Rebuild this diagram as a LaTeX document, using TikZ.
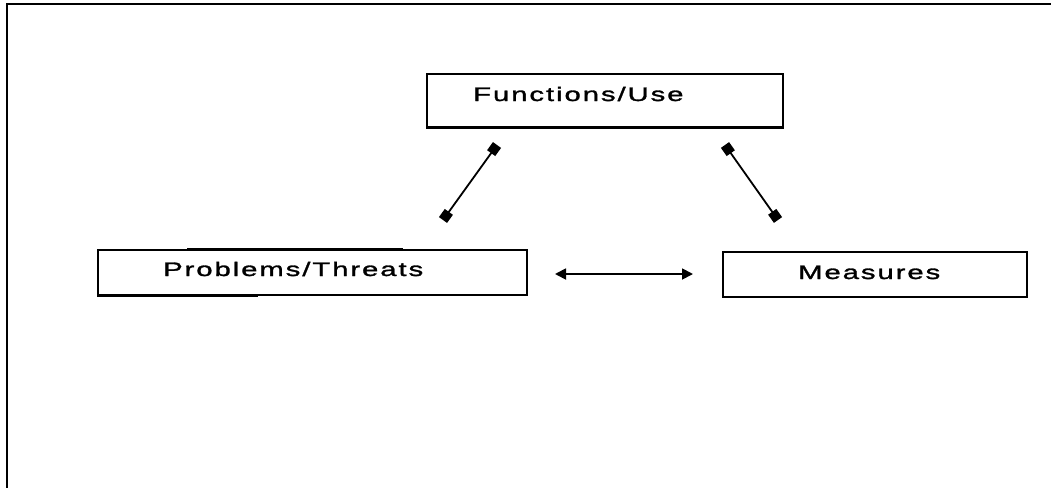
\documentclass[tikz,border=0pt]{standalone}
\usepackage{fontspec}
\setmainfont{Liberation Sans}
\newfontfamily\pixfont[FakeStretch=1.5,LetterSpace=10,FakeBold=1.5]{Liberation Sans}
\usetikzlibrary{arrows.meta}
\tikzset{
  boxnode/.style={draw=black, line width=1.8pt, rectangle, inner sep=0pt},
  lbl/.style={anchor=base west, inner sep=0pt, font=\pixfont\fontsize{19.5}{22}\selectfont},
  link/.style={line width=1.8pt, {Square[length=10pt,width=10pt]}-{Square[length=10pt,width=10pt]}},
  hlink/.style={line width=1.8pt, {Triangle[length=11pt,width=11pt]}-{Triangle[length=11pt,width=11pt]}},
  frame/.style={line width=2pt, line cap=rect}
}
\begin{document}
\begin{tikzpicture}[x=1pt,y=-1pt]
\useasboundingbox (0,0) rectangle (1051,487);
% frame (top and left only)
\coordinate (fa) at (7,487);
\coordinate (fb) at (7,4);
\coordinate (fc) at (1051,4);
\draw[frame] (fa) -- (fb) -- (fc);
% boxes
\node[boxnode, minimum width=356pt, minimum height=53pt] (fu) at (605,100.5) {};
\node[boxnode, minimum width=429pt, minimum height=45pt] (pt) at (312.5,272.5) {};
\node[boxnode, minimum width=304pt, minimum height=45pt] (me) at (875,274.5) {};
% thicker edge segments
\draw[line width=3pt] (fu.south west) -- (fu.south east);
\draw[line width=3pt] (pt.south west) -- ([xshift=-270pt]pt.south east);
\draw[line width=3pt] ([xshift=90pt]pt.north west) -- ([xshift=-125pt]pt.north east);
% labels
\node[lbl] (tfu) at (473,101) {Functions/Use};
\node[lbl] (tpt) at (163,276) {Problems/Threats};
\node[lbl] (tme) at (798,279) {Measures};
% connector end points
\coordinate (a1) at (497,145);
\coordinate (a2) at (443,220);
\coordinate (b1) at (725,145);
\coordinate (b2) at (778,220);
\coordinate (c1) at (555,274);
\coordinate (c2) at (693,274);
\draw[link] (a2) -- (a1);
\draw[link] (b1) -- (b2);
\draw[hlink] (c1) -- (c2);
\end{tikzpicture}
\end{document}
